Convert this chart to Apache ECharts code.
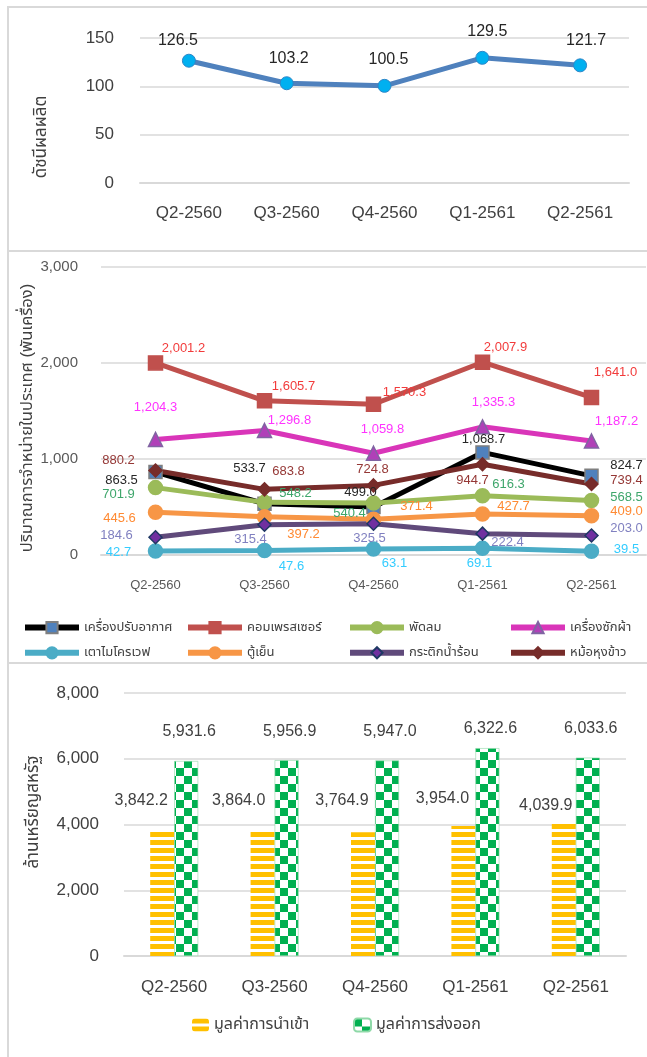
<!DOCTYPE html>
<html><head><meta charset="utf-8">
<script src="https://cdn.jsdelivr.net/npm/echarts@6/dist/echarts.min.js"></script>
<style>html,body{margin:0;padding:0;background:#fff}#c{width:647px;height:1057px}</style>
</head><body><div id="c"></div>
<script>
// ---------- DATA ----------
const categories = ['Q2-2560', 'Q3-2560', 'Q4-2560', 'Q1-2561', 'Q2-2561'];
const productionIndex = [126.5, 103.2, 100.5, 129.5, 121.7];
const airConditioner = [863.5, 533.7, 499.0, 1068.7, 824.7];
const compressor = [2001.2, 1605.7, 1570.3, 2007.9, 1641.0];
const fan = [701.9, 548.2, 540.4, 616.3, 568.5];
const washingMachine = [1204.3, 1296.8, 1059.8, 1335.3, 1187.2];
const microwave = [42.7, 47.6, 63.1, 69.1, 39.5];
const refrigerator = [445.6, 397.2, 371.4, 427.7, 409.0];
const kettle = [184.6, 315.4, 325.5, 222.4, 203.0];
const riceCooker = [880.2, 683.8, 724.8, 944.7, 739.4];
const importValue = [3842.2, 3864.0, 3764.9, 3954.0, 4039.9];
const exportValue = [5931.6, 5956.9, 5947.0, 6322.6, 6033.6];

const indexAxisName = 'ดัชนีผลผลิต';
const salesAxisName = 'ปริมาณการจำหน่ายในประเทศ (พันเครื่อง)';
const tradeAxisName = 'ล้านเหรียญสหรัฐ';
const names = {
  ac: 'เครื่องปรับอากาศ', comp: 'คอมเพรสเซอร์', fan: 'พัดลม', wash: 'เครื่องซักผ้า',
  micro: 'เตาไมโครเวฟ', fridge: 'ตู้เย็น', kettle: 'กระติกน้ำร้อน', rice: 'หม้อหุงข้าว',
  imp: 'มูลค่าการนำเข้า', exp: 'มูลค่าการส่งออก'
};

// ---------- LAYOUT / STYLE ----------
const FONT = "'Liberation Sans', 'Noto Sans Thai', 'Noto Sans', sans-serif";
const GRID_COLOR = '#d9d9d9';
const TXT = '#404040';
const topLabelOffsets = [[-11, 0], [2, -5], [4, -6], [5, -6], [6, -5]];
const midLabelOffsets = {
  ac: [[-34, 8], [-15, -35], [-13, -15], [1, -13], [35, -10]],
  comp: [[28, -14], [29, -14], [31, -12], [23, -15], [24, -25]],
  fan: [[-37, 7], [31, -9], [-24, 10], [26, -11], [35, -3]],
  wash: [[0, -32], [25, -10], [9, -24], [11, -24], [25, -20]],
  micro: [[-37, 2], [27, 16], [21, 14], [-3, 15], [35, -2]],
  fridge: [[-36, 6], [39, 18], [43, -13], [31, -8], [35, -4]],
  kettle: [[-39, -2], [-14, 15], [-4, 15], [25, 9], [35, -7]],
  rice: [[-37, -10], [24, -18], [-1, -16], [-10, 16], [35, -4]]
};
const impLabelOffsets = [[-21, -16], [-24, -15], [-21, -19], [-21, -14], [-18, -5]];
const expLabelOffsets = [[3, -16], [3, -16], [3, -16], [3, -7], [3, -16]];

const fmt1 = v => Number(v).toLocaleString('en-US', {minimumFractionDigits: 1, maximumFractionDigits: 1});

function stripePattern() {
  const c = document.createElement('canvas'); c.width = 8; c.height = 8;
  const g = c.getContext('2d'); g.fillStyle = '#fff'; g.fillRect(0, 0, 8, 8);
  g.fillStyle = '#ffc000'; g.fillRect(0, 0, 8, 5); return c;
}
function checkerPattern() {
  const c = document.createElement('canvas'); c.width = 16; c.height = 16;
  const g = c.getContext('2d'); g.fillStyle = '#fff'; g.fillRect(0, 0, 16, 16);
  g.fillStyle = '#00b050'; g.fillRect(0, 0, 8, 8); g.fillRect(8, 8, 8, 8); return c;
}
const impFill = {image: stripePattern(), repeat: 'repeat'};
const expFill = {image: checkerPattern(), repeat: 'repeat'};

function withOffsets(values, offsets, extra) {
  return values.map((v, i) => ({value: v, label: Object.assign({offset: offsets[i]}, extra || {})}));
}

const midDefs = [
  {key: 'ac', data: airConditioner, line: '#000000', sym: 'rect', symColor: '#4f81bd', symBorder: '#7f7f7f', size: 13, label: '#262626'},
  {key: 'comp', data: compressor, line: '#c0504d', sym: 'rect', symColor: '#c0504d', symBorder: '#c0504d', size: 14, label: '#f23b3b'},
  {key: 'fan', data: fan, line: '#9bbb59', sym: 'circle', symColor: '#9bbb59', symBorder: '#9bbb59', size: 14, label: '#3ea66b'},
  {key: 'wash', data: washingMachine, line: '#d935b9', sym: 'triangle', symColor: '#b040b8', symBorder: '#8064a2', size: 14, label: '#ff33ff'},
  {key: 'micro', data: microwave, line: '#4bacc6', sym: 'circle', symColor: '#4bacc6', symBorder: '#4bacc6', size: 14, label: '#33ccff'},
  {key: 'fridge', data: refrigerator, line: '#f79646', sym: 'circle', symColor: '#f79646', symBorder: '#f79646', size: 14, label: '#ff8a33'},
  {key: 'kettle', data: kettle, line: '#604a7b', sym: 'diamond', symColor: '#7030a0', symBorder: '#1f3864', size: 13, label: '#8080c0'},
  {key: 'rice', data: riceCooker, line: '#772c2a', sym: 'diamond', symColor: '#772c2a', symBorder: '#772c2a', size: 13, label: '#953735'}
];

const midSeries = midDefs.map(d => ({
  name: names[d.key], type: 'line', xAxisIndex: 1, yAxisIndex: 1,
  data: withOffsets(d.data, midLabelOffsets[d.key]),
  symbol: d.sym, symbolSize: d.size, showAllSymbol: true,
  lineStyle: {color: d.line, width: 5},
  itemStyle: {color: d.symColor, borderColor: d.symBorder, borderWidth: 1.5},
  label: {show: true, position: 'inside', color: d.label, fontSize: 13, fontFamily: FONT,
          formatter: p => fmt1(p.value)},
  emphasis: {disabled: true}
}));

const chart = echarts.init(document.getElementById('c'), null, {renderer: 'canvas'});

const axisCat = (gi, fs, color, margin) => ({
  type: 'category', gridIndex: gi, data: categories, boundaryGap: true,
  axisTick: {show: false},
  axisLine: {show: true, lineStyle: {color: GRID_COLOR, width: 2}},
  axisLabel: {color: color, fontSize: fs, fontFamily: FONT, margin: margin}
});
const axisVal = (gi, max, interval, fs, color, margin) => ({
  type: 'value', gridIndex: gi, min: 0, max: max, interval: interval,
  axisLine: {show: false}, axisTick: {show: false},
  splitLine: {lineStyle: {color: GRID_COLOR, width: 1.5}},
  axisLabel: {color: color, fontSize: fs, fontFamily: FONT, margin: margin}
});

const legendCols = [
  [names.ac, names.micro], [names.comp, names.fridge], [names.fan, names.kettle], [names.wash, names.rice]
];
const legendLefts = [17, 180, 342, 503];

const option = {
  animation: false,
  backgroundColor: '#ffffff',
  textStyle: {fontFamily: FONT},
  grid: [
    {left: 140, right: 18, top: 38, height: 145},
    {left: 101, right: 1, top: 267, height: 288},
    {left: 124, right: 21, top: 693, height: 263}
  ],
  xAxis: [axisCat(0, 17, TXT, 22), axisCat(1, 13, '#595959', 24), axisCat(2, 17, TXT, 23)],
  yAxis: [axisVal(0, 150, 50, 17, TXT, 26), axisVal(1, 3000, 1000, 15, '#595959', 23), axisVal(2, 8000, 2000, 17, TXT, 25)],
  legend: legendCols.map((col, i) => ({
    data: col, orient: 'vertical', left: legendLefts[i], top: 616,
    itemWidth: 54, itemHeight: 14, itemGap: 12, selectedMode: false,
    lineStyle: {width: 6, cap: 'butt'},
    textStyle: {color: TXT, fontSize: 13, fontFamily: FONT, padding: [0, 0, 0, 0]}
  })).concat([
    {data: [names.imp], left: 187, top: 1012, itemWidth: 17, itemHeight: 13, selectedMode: false,
     textStyle: {color: TXT, fontSize: 16, fontFamily: FONT}},
    {data: [names.exp], left: 348, top: 1012, itemWidth: 17, itemHeight: 13, selectedMode: false,
     textStyle: {color: TXT, fontSize: 16, fontFamily: FONT}}
  ]),
  graphic: [
    {type: 'rect', z: -10, shape: {x: 8, y: 7, width: 660, height: 244}, style: {fill: null, stroke: GRID_COLOR, lineWidth: 2}},
    {type: 'rect', z: -10, shape: {x: 8, y: 251, width: 660, height: 412}, style: {fill: null, stroke: GRID_COLOR, lineWidth: 2}},
    {type: 'rect', z: -10, shape: {x: 8, y: 663, width: 660, height: 420}, style: {fill: null, stroke: GRID_COLOR, lineWidth: 2}},
    {type: 'text', x: 41, y: 137, rotation: Math.PI / 2,
     style: {text: indexAxisName, fill: TXT, fontSize: 17, fontFamily: FONT, textAlign: 'center', textVerticalAlign: 'middle'}},
    {type: 'text', x: 27, y: 418, rotation: Math.PI / 2,
     style: {text: salesAxisName, fill: TXT, fontSize: 16.5, fontFamily: FONT, textAlign: 'center', textVerticalAlign: 'middle'}},
    {type: 'text', x: 33, y: 812, rotation: Math.PI / 2,
     style: {text: tradeAxisName, fill: TXT, fontSize: 17, fontFamily: FONT, textAlign: 'center', textVerticalAlign: 'middle'}}
  ],
  series: [
    {
      name: indexAxisName, type: 'line', xAxisIndex: 0, yAxisIndex: 0,
      data: withOffsets(productionIndex, topLabelOffsets),
      symbol: 'circle', symbolSize: 13,
      lineStyle: {color: '#4f81bd', width: 5},
      itemStyle: {color: '#00b0f0', borderColor: '#2e86c8', borderWidth: 1},
      label: {show: true, position: 'top', color: '#262626', fontSize: 16, fontFamily: FONT,
              formatter: p => fmt1(p.value)},
      emphasis: {disabled: true}
    }
  ].concat(midSeries).concat([
    {
      name: names.imp, type: 'bar', xAxisIndex: 2, yAxisIndex: 2,
      data: withOffsets(importValue, impLabelOffsets),
      barWidth: 24, barGap: '0%',
      itemStyle: {color: impFill},
      label: {show: true, position: 'top', color: TXT, fontSize: 16, fontFamily: FONT, formatter: p => fmt1(p.value)},
      emphasis: {disabled: true}
    },
    {
      name: names.exp, type: 'bar', xAxisIndex: 2, yAxisIndex: 2,
      data: withOffsets(exportValue, expLabelOffsets),
      barWidth: 24, barGap: '0%',
      itemStyle: {color: expFill, borderColor: '#8fd9a8', borderWidth: 0.6},
      label: {show: true, position: 'top', color: TXT, fontSize: 16, fontFamily: FONT, formatter: p => fmt1(p.value)},
      emphasis: {disabled: true}
    }
  ])
};
chart.setOption(option);
</script></body></html>
